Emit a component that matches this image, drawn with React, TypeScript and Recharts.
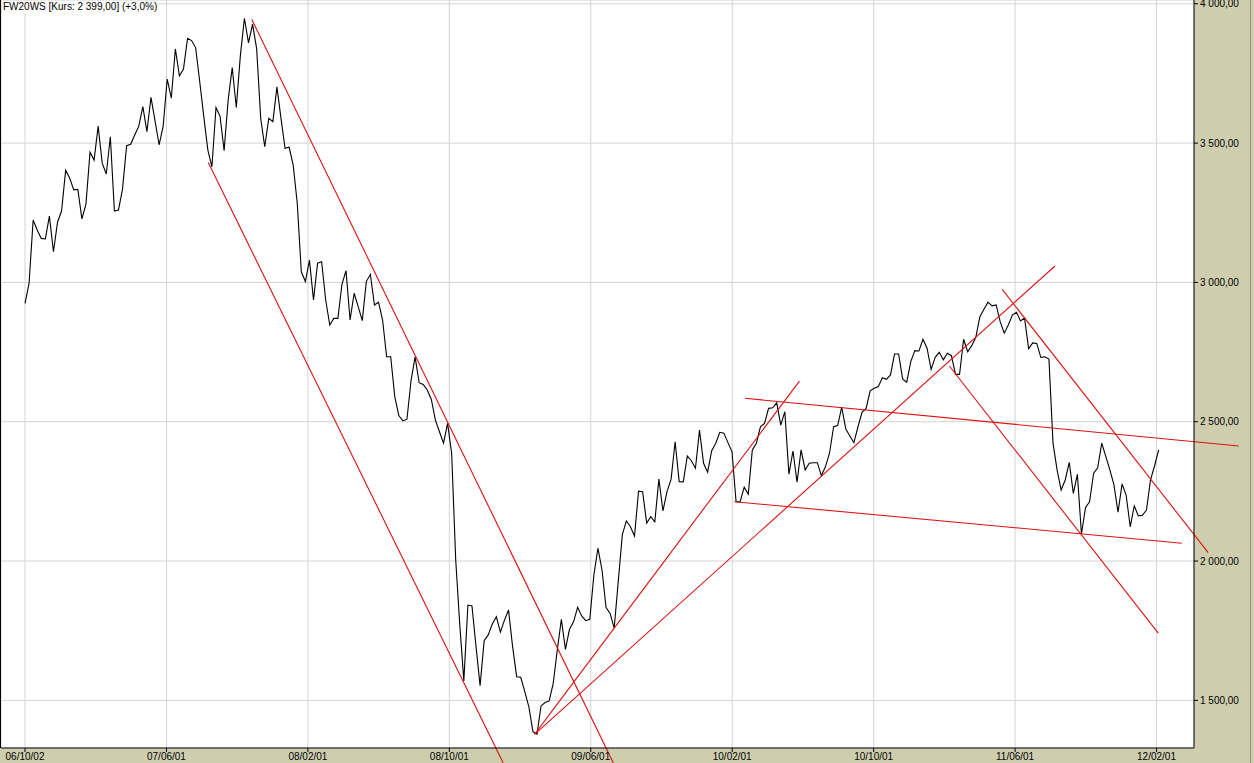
import { LineChart, Line, XAxis, YAxis, CartesianGrid, ReferenceLine } from 'recharts'

// daily closes, one per trading session
const prices = [
	2925, 2997, 3224, 3188, 3158, 3156, 3238, 3110, 3216, 3257,
	3403, 3374, 3332, 3334, 3228, 3281, 3467, 3439, 3561, 3428,
	3389, 3523, 3256, 3260, 3335, 3491, 3496, 3529, 3561, 3631,
	3541, 3664, 3580, 3494, 3561, 3730, 3661, 3838, 3741, 3766,
	3876, 3868, 3842, 3720, 3595, 3475, 3415, 3627, 3597, 3473,
	3655, 3771, 3628, 3814, 3948, 3860, 3927, 3840, 3589, 3487,
	3589, 3577, 3702, 3589, 3481, 3485, 3421, 3284, 3038, 3003,
	3080, 2937, 3069, 3074, 2937, 2847, 2871, 2871, 2993, 3042,
	2865, 2961, 2913, 2863, 3003, 3029, 2919, 2929, 2865, 2733,
	2733, 2590, 2522, 2503, 2509, 2647, 2733, 2640, 2634, 2614,
	2580, 2506, 2464, 2423, 2494, 2387, 2004, 1771, 1570, 1842,
	1839, 1693, 1553, 1714, 1735, 1774, 1800, 1745, 1788, 1824,
	1693, 1585, 1583, 1531, 1477, 1388, 1378, 1480, 1492, 1498,
	1561, 1681, 1791, 1683, 1755, 1782, 1834, 1803, 1786, 1791,
	1950, 2046, 1968, 1833, 1812, 1759, 1926, 2094, 2144, 2123,
	2090, 2251, 2249, 2136, 2159, 2141, 2294, 2180, 2249, 2293,
	2428, 2285, 2284, 2377, 2360, 2333, 2470, 2351, 2319, 2396,
	2423, 2462, 2459, 2425, 2392, 2213, 2213, 2265, 2240, 2399,
	2423, 2482, 2494, 2548, 2550, 2568, 2488, 2536, 2312, 2395,
	2283, 2399, 2327, 2351, 2353, 2353, 2306, 2339, 2387, 2482,
	2486, 2552, 2474, 2449, 2425, 2482, 2534, 2548, 2611, 2620,
	2626, 2658, 2652, 2668, 2743, 2743, 2653, 2642, 2716, 2755,
	2754, 2796, 2764, 2688, 2731, 2749, 2722, 2746, 2737, 2670,
	2670, 2796, 2751, 2773, 2803, 2877, 2904, 2929, 2916, 2919,
	2859, 2818, 2847, 2883, 2893, 2862, 2872, 2762, 2783, 2781,
	2731, 2733, 2725, 2423, 2327, 2255, 2291, 2354, 2243, 2311,
	2097, 2192, 2213, 2315, 2335, 2423, 2375, 2327, 2273, 2175,
	2277, 2237, 2123, 2198, 2162, 2164, 2183, 2291, 2342, 2399,
]

const dateLabels = [
	'06/10/02',
	'07/06/01',
	'08/02/01',
	'08/10/01',
	'09/06/01',
	'10/02/01',
	'10/10/01',
	'11/06/01',
	'12/02/01',
]

const priceTicks = [1500, 2000, 2500, 3000, 3500, 4000]

// hand-drawn trend lines: [fromIndex, fromPrice, toIndex, toPrice]
const trendLines = [
	[55.8, 3944, 144.8, 1275],
	[45.1, 3430, 117.7, 1275],
	[125.4, 1378, 190.6, 2646],
	[125.4, 1378, 253.5, 3059],
	[177.2, 2584, 298.7, 2413],
	[174.6, 2213, 284.7, 2064],
	[227.5, 2700, 278.9, 1741],
	[240.5, 2975, 291.2, 2030],
]

const TICK_STEP = 34.81
const KHAKI = '#CECEAF'
const FONT = '"Liberation Sans", Arial, sans-serif'

const fmtPrice = (v: number) => {
	const [int, dec] = v.toFixed(2).split('.')
	return int.replace(/\B(?=(\d{3})+(?!\d))/g, ' ') + ',' + dec
}

const data = prices.map((v, i) => ({ i, v }))
const xTicks = dateLabels.map((_, k) => k * TICK_STEP)

export default function App() {
	return (
		<div
			style={{
				position: 'absolute',
				left: 0,
				top: 0,
				width: 1254,
				height: 763,
				background: KHAKI,
				fontFamily: FONT,
			}}>
			<LineChart
				width={1254}
				height={763}
				data={data}
				margin={{ top: 0, right: 0, bottom: 0, left: 1 }}>
				<CartesianGrid fill="#fff" stroke="#D4D4D4" />
				<XAxis
					dataKey="i"
					type="number"
					domain={[-5.91, 287.7]}
					ticks={xTicks}
					tickFormatter={(t: number) => dateLabels[Math.round(t / TICK_STEP)]}
					height={15}
					tickSize={4}
					tickMargin={1}
					interval={0}
					axisLine={{ stroke: '#000' }}
					tickLine={{ stroke: '#000' }}
					tick={{ fill: '#000', fontSize: 10, fontFamily: FONT }}
					allowDataOverflow
				/>
				<YAxis
					orientation="right"
					type="number"
					domain={[1329, 4013.6]}
					ticks={priceTicks}
					tickFormatter={fmtPrice}
					width={60}
					tickSize={4}
					tickMargin={2}
					interval={0}
					axisLine={{ stroke: '#000' }}
					tickLine={{ stroke: '#000' }}
					tick={{ fill: '#000', fontSize: 10, fontFamily: FONT }}
					allowDataOverflow
				/>
				<Line
					type="linear"
					dataKey="v"
					stroke="#000"
					strokeWidth={1.1}
					dot={false}
					isAnimationActive={false}
				/>
				{trendLines.map(([x1, y1, x2, y2], k) => (
					<ReferenceLine
						key={`trend-${k}`}
						segment={[
							{ x: x1, y: y1 },
							{ x: x2, y: y2 },
						]}
						stroke="#DD1111"
						strokeWidth={1.1}
						ifOverflow="visible"
					/>
				))}
			</LineChart>
			<div
				style={{
					position: 'absolute',
					left: 0,
					top: 0,
					width: 1,
					height: 748,
					background: '#000',
				}}
			/>
			<div
				style={{
					position: 'absolute',
					left: 1250,
					top: 0,
					width: 1,
					height: 763,
					background: '#8C8C7A',
				}}
			/>
			<div
				style={{
					position: 'absolute',
					left: 3,
					top: 1,
					fontSize: 10,
					lineHeight: '12px',
					color: '#000',
					background: '#fff',
					whiteSpace: 'nowrap',
				}}>
				FW20WS [Kurs: 2 399,00] (+3,0%)
			</div>
		</div>
	)
}
